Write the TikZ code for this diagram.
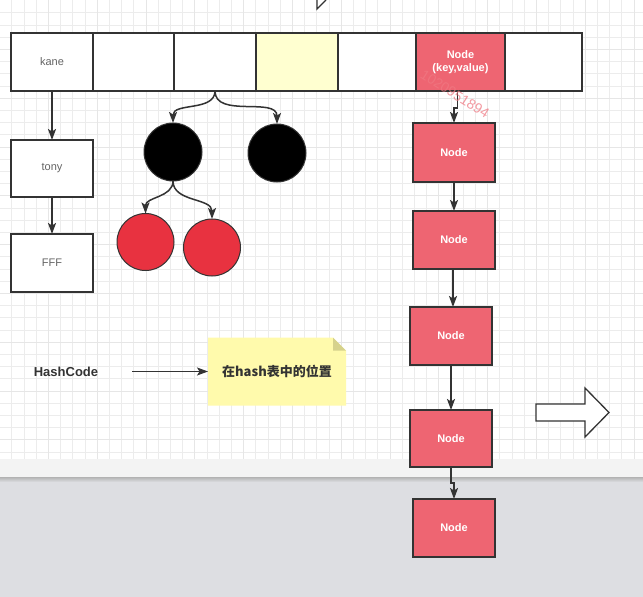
\documentclass[tikz,border=0pt]{standalone}
\usepackage{fontspec}
\setmainfont{Liberation Sans}
\newfontfamily\cjk{Noto Sans CJK SC}
\usetikzlibrary{arrows.meta}
\definecolor{gmin}{RGB}{236,236,236}
\definecolor{gmaj}{RGB}{230,230,230}
\definecolor{band}{RGB}{243,243,243}
\definecolor{lowbg}{RGB}{221,222,226}
\definecolor{edge}{RGB}{51,51,51}
\definecolor{txtgray}{RGB}{100,100,100}
\definecolor{nodered}{RGB}{238,101,114}
\definecolor{ballred}{RGB}{232,50,64}
\definecolor{cellyellow}{RGB}{255,255,208}
\definecolor{notefill}{RGB}{255,250,172}
\definecolor{notefold}{RGB}{214,210,140}
\definecolor{wmark}{RGB}{240,120,130}
\begin{document}
\begin{tikzpicture}[x=1pt,y=-1pt,
  cellbox/.style={draw=edge,line width=1.3pt,fill=white,minimum height=58pt,inner sep=0pt,outer sep=0pt,font=\fontsize{11}{13}\selectfont,text=txtgray},
  listbox/.style={draw=edge,line width=1.3pt,fill=white,minimum width=82pt,inner sep=0pt,outer sep=0pt,font=\fontsize{11}{13}\selectfont,text=txtgray},
  rednode/.style={draw=edge,line width=1.3pt,fill=nodered,minimum width=82pt,minimum height=58pt,inner sep=0pt,outer sep=0pt,font=\bfseries\fontsize{11}{13}\selectfont,text=white,align=center},
  blackball/.style={circle,draw=edge,line width=1pt,fill=black,minimum size=58pt,inner sep=0pt,outer sep=0pt},
  redball/.style={circle,draw=edge,line width=1pt,fill=ballred,minimum size=57pt,inner sep=0pt,outer sep=0pt},
  arr/.style={draw=edge,line width=1.5pt,-{Stealth[length=11pt,width=8pt,inset=2.5pt]}},
  shapeline/.style={draw=edge,line width=1.3pt,line join=miter}
]
\useasboundingbox (0,0) rectangle (643,597);
% background
\fill[white] (0,0) rectangle (643,459);
\foreach \i in {0,...,53} \draw[gmin,line width=0.7pt] ({-0.5+12.2*\i},0) -- ({-0.5+12.2*\i},459);
\foreach \j in {1,...,37} \draw[gmin,line width=0.7pt] (0,{0.5+12.2*\j}) -- (643,{0.5+12.2*\j});
\foreach \i in {0,...,13} \draw[gmaj,line width=0.8pt] ({-0.5+48.8*\i},0) -- ({-0.5+48.8*\i},459);
\foreach \j in {1,...,9} \draw[gmaj,line width=0.8pt] (0,{0.5+48.8*\j}) -- (643,{0.5+48.8*\j});
\fill[band] (0,459) rectangle (643,478);
\fill[lowbg] (0,478) rectangle (643,597);
\shade[top color=black!30,bottom color=lowbg] (0,477) rectangle (643,482);

% partial arrow at top
\draw[shapeline] (317,0) -- (317,9) -- (326,0);

% array cells
\node[cellbox,minimum width=82pt] (c1) at (52,62) {kane};
\node[cellbox,minimum width=81pt] (c2) at (133.5,62) {};
\node[cellbox,minimum width=82pt] (c3) at (215,62) {};
\node[cellbox,minimum width=82pt,fill=cellyellow] (c4) at (297,62) {};
\node[cellbox,minimum width=78pt] (c5) at (377,62) {};
\node[cellbox,minimum width=89pt,fill=nodered,text=white,align=center,font=\bfseries\fontsize{11}{13}\selectfont] (c6) at (460.5,62) {Node\\(key,value)};
\node[cellbox,minimum width=77pt] (c7) at (543.5,62) {};

% list under kane
\node[listbox,minimum height=57pt] (tony) at (52,168.5) {tony};
\node[listbox,minimum height=58pt] (fff) at (52,263) {FFF};
\draw[arr] (c1.south) -- (tony.north);
\draw[arr] (tony.south) -- (fff.north);

% tree
\node[blackball] (b1) at (173,152) {};
\node[blackball] (b2) at (277,153) {};
\node[redball] (r1) at (145.5,242) {};
\node[redball] (r2) at (212,247.5) {};
\draw[arr] (c3.south) to[out=-90,in=90] (b1.north);
\draw[arr] (c3.south) to[out=-90,in=90] (b2.north);
\draw[arr] (b1.south) to[out=-90,in=90] (r1.north);
\draw[arr] (b1.south) to[out=-90,in=90] (r2.north);

% linked nodes
\node[rednode,minimum height=59pt] (n1) at (454,152.5) {Node};
\node[rednode] (n2) at (454,240) {Node};
\node[rednode] (n3) at (451,336) {Node};
\node[rednode,minimum height=57pt] (n4) at (451,438.5) {Node};
\node[rednode] (n5) at (454,528) {Node};
\draw[arr] ([xshift=-3pt]c6.south) -- ++(0,17) -| (n1.north);
\draw[arr] (n1.south) -- (n2.north);
\draw[arr] ([xshift=-1pt]n2.south) -- ([xshift=-1pt]n2.south |- n3.north);
\draw[arr] (n3.south) -- (n4.north);
\draw[arr] (n4.south) -- ++(0,16) -| (n5.north);

% hashcode -> note
\node[font=\bfseries\fontsize{13}{15}\selectfont,text=edge] (hc) at (66,372) {HashCode};
\node[minimum width=138pt,minimum height=68pt,inner sep=0pt,outer sep=0pt] (note) at (277,371.5) {};
\fill[notefill] (note.north west) -- ([xshift=-13pt]note.north east) -- ([yshift=-13pt]note.north east) -- (note.south east) -- (note.south west) -- cycle;
\fill[notefold] ([xshift=-13pt]note.north east) -- ([yshift=-13pt]note.north east) -- ([xshift=-13pt,yshift=-13pt]note.north east) -- cycle;
\node[font=\cjk\bfseries\fontsize{13}{15}\selectfont,text=edge] (notetext) at (note.center) {在hash表中的位置};
\coordinate (hcstart) at (132,371.5);
\draw[arr,line width=1.3pt] (hcstart) -- (note.west);

% big hollow arrow
\draw[shapeline,fill=white] (536,404) -- (585,404) -- (585,388) -- (609,412.5) -- (585,437) -- (585,421) -- (536,421) -- cycle;

% watermark
\node[text=wmark,opacity=0.75,rotate=-32,font=\fontsize{14}{16}\selectfont] (wm) at (455,94) {1020951894};
\end{tikzpicture}
\end{document}
